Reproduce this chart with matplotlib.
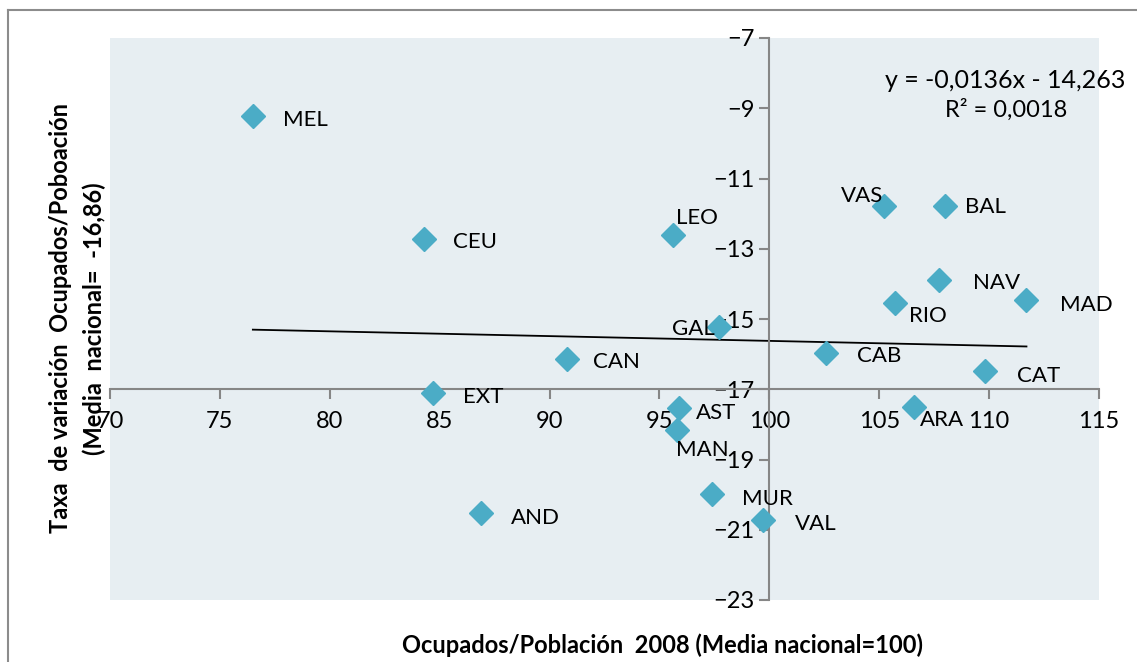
import matplotlib
matplotlib.use("Agg")
import matplotlib.pyplot as plt
from matplotlib.lines import Line2D
import numpy as np

# datos por comunidad
regiones = ["MEL", "CEU", "LEO", "GAL", "CAN", "EXT", "AST", "MAN", "AND", "MUR",
            "VAL", "VAS", "BAL", "NAV", "RIO", "MAD", "CAB", "CAT", "ARA"]
ocupados_2008 = [76.5, 84.3, 95.6, 97.7, 90.8, 84.7, 95.9, 95.8, 86.9, 97.4,
                 99.7, 105.2, 108.0, 107.7, 105.7, 111.7, 102.6, 109.8, 106.6]
taxa_variacion = [-9.22, -12.73, -12.61, -15.23, -16.15, -17.11, -17.54, -18.17, -20.53, -19.99,
                  -20.73, -11.79, -11.79, -13.89, -14.55, -14.46, -15.97, -16.49, -17.51]
# desplazamiento de cada etiqueta (pixeles) y alineacion
offsets = [(30, -4), (29, -3), (3, 17), (-4, -2), (26, -3), (30, -4), (17, -5), (-1, -20),
           (30, -5), (30, -5), (32, -4), (0, 10), (20, -1), (34, -3), (14, -13), (34, -5),
           (31, -3), (32, -5), (6, -13)]
ha_list = ["left"] * 19
ha_list[3] = "right"
ha_list[11] = "right"

pendiente = -0.0136
intercepto = -14.263
r2 = 0.0018

H = 662
plt.rcParams['font.family'] = ['Lato', 'DejaVu Sans']
fig = plt.figure(figsize=(11.37, 6.62), dpi=100)
ax = fig.add_axes([110/1137, 1-600/H, (1099-110)/1137, (600-38)/H])
ax.set_facecolor('#E7EEF2')

ax.plot(ocupados_2008, taxa_variacion, linestyle='none', marker='D', markersize=12.5,
        color='#4BACC6', zorder=3)

# linea de tendencia
xs = np.array([min(ocupados_2008), max(ocupados_2008)])
ax.plot(xs, pendiente * xs + intercepto, color='black', lw=1.3, zorder=2)

for nombre, x, y, off, ha in zip(regiones, ocupados_2008, taxa_variacion, offsets, ha_list):
    ax.annotate(nombre, (x, y), xytext=off, textcoords='offset pixels', fontsize=16,
                ha=ha, va='center', zorder=4)

ax.set_xlim(70, 115)
ax.set_ylim(-23, -7)
ax.set_xticks(np.arange(70, 116, 5))
ax.set_yticks(np.arange(-23, -6, 2))
ax.spines['left'].set_position(('data', 100))
ax.spines['bottom'].set_position(('data', -17))
ax.spines['right'].set_visible(False)
ax.spines['top'].set_visible(False)
for s in ['left', 'bottom']:
    ax.spines[s].set_color('#868686')
    ax.spines[s].set_linewidth(1.5)
ax.tick_params(axis='both', colors='#868686', width=1.5, length=7, labelsize=17,
               labelcolor='black')
ax.tick_params(axis='x', pad=9)

fig.text(1005/1137, 1-80/H, "y = -0,0136x - 14,263", fontsize=18, ha='center', va='center')
fig.text(1006/1137, 1-110/H, "R² = 0,0018", fontsize=17, ha='center', va='center')

fig.text(662/1137, 1-645/H, "Ocupados/Población  2008 (Media nacional=100)",
         fontsize=17, fontweight='bold', ha='center', va='center')
fig.text(61/1137, 1-318/H, "Taxa  de variación  Ocupados/Poboación",
         fontsize=17, fontweight='bold', ha='center', va='center', rotation=90)
fig.text(94/1137, 1-319/H, "(Media  nacional=  -16,86)",
         fontsize=17, fontweight='bold', ha='center', va='center', rotation=90)

# marco exterior
fig.add_artist(Line2D([8/1137, 8/1137], [0, 1-10/H], color='#8C8C8C', lw=1.5))
fig.add_artist(Line2D([8/1137, 1], [1-10/H, 1-10/H], color='#8C8C8C', lw=1.5))

fig.savefig('out.png', dpi=100)
